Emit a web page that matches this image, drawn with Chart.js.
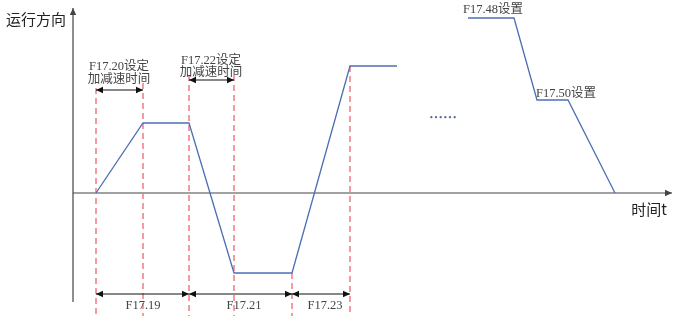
<!DOCTYPE html>
<html><head><meta charset="utf-8">
<script src="https://cdn.jsdelivr.net/npm/chart.js@4/dist/chart.umd.min.js"></script>
<style>html,body{margin:0;padding:0;background:#fff}#wrap{width:678px;height:321px;position:relative}</style>
</head><body><div id="wrap"><canvas id="c"></canvas></div>
<script>
// time (schematic units) and running speed/direction values
const timeA  = [0, 47, 93, 138, 196, 254, 301];
const speedA = [0, 70, 70, -80, -80, 127, 127];
const timeB  = [372, 418, 441, 472, 519];
const speedB = [175, 175, 93, 93, 0];
// red dashed marker lines: time, top value
const markerTimes = [0, 47, 93, 138, 196, 254];
const markerTops  = [105, 110, 118, 118, -80, 127];
const markerBottom = -123;
// dimension arrows: [from, to, level]
const dimArrows = [[0, 47, 103], [93, 138, 113], [0, 93, -101], [93, 196, -101], [196, 254, -101]];
// axis extents
const xAxisRange = [-23, 576];
const yAxisRange = [-109, 185];
// text labels: [text, time, value, kind]
const textLabels = [
  ['运行方向', -60, 174, 'axis'],
  ['时间t', 553, -16, 'axis'],
  ['F17.20设定', 23, 126, 'note'],
  ['加减速时间', 23, 113, 'note'],
  ['F17.22设定', 115, 132, 'note'],
  ['加减速时间', 115, 120, 'note'],
  ['F17.19', 47, -113, 'note'],
  ['F17.21', 148, -113, 'note'],
  ['F17.23', 229, -113, 'note'],
  ['F17.48设置', 397, 183, 'note'],
  ['F17.50设置', 470, 99, 'note'],
  ['……', 347, 76, 'dots']
];

const BLUE = '#4c6fb4', RED = '#f0707a', AXIS = '#444';
const pts = (xs, ys) => xs.map((x, i) => ({x, y: ys[i]}));
const datasets = [];
datasets.push({data: pts(timeA, speedA), borderColor: BLUE, borderWidth: 1.3, pointRadius: 0, order: 1});
datasets.push({data: pts(timeB, speedB), borderColor: BLUE, borderWidth: 1.3, pointRadius: 0, order: 1});
markerTimes.forEach((t, i) => datasets.push({data: [{x: t, y: markerTops[i]}, {x: t, y: markerBottom}], borderColor: RED, borderWidth: 1.4, borderDash: [6, 4], pointRadius: 0, order: 2}));
dimArrows.forEach(a => datasets.push({data: [{x: a[0], y: a[2]}, {x: a[1], y: a[2]}], borderColor: '#111', borderWidth: 1, pointRadius: 0, arrows: 'both', order: 0}));
datasets.push({data: [{x: xAxisRange[0], y: 0}, {x: xAxisRange[1], y: 0}], borderColor: AXIS, borderWidth: 1.2, pointRadius: 0, arrows: 'end', order: 3});
datasets.push({data: [{x: xAxisRange[0], y: yAxisRange[0]}, {x: xAxisRange[0], y: yAxisRange[1]}], borderColor: AXIS, borderWidth: 1.2, pointRadius: 0, arrows: 'end', order: 3});
datasets.forEach(d => { d.showLine = true; d.clip = false; d.tension = 0; d.fill = false; });

const arrowPlugin = {
  id: 'arrowHeads',
  afterDatasetsDraw(chart) {
    const ctx = chart.ctx;
    chart.data.datasets.forEach((ds, i) => {
      if (!ds.arrows) return;
      const m = chart.getDatasetMeta(i).data;
      const head = (tip, from) => {
        const ang = Math.atan2(tip.y - from.y, tip.x - from.x), L = 7, W = 3.2;
        ctx.save(); ctx.fillStyle = ds.borderColor; ctx.beginPath();
        ctx.moveTo(tip.x, tip.y);
        ctx.lineTo(tip.x - L * Math.cos(ang) + W * Math.sin(ang), tip.y - L * Math.sin(ang) - W * Math.cos(ang));
        ctx.lineTo(tip.x - L * Math.cos(ang) - W * Math.sin(ang), tip.y - L * Math.sin(ang) + W * Math.cos(ang));
        ctx.closePath(); ctx.fill(); ctx.restore();
      };
      head(m[m.length - 1], m[0]);
      if (ds.arrows === 'both') head(m[0], m[m.length - 1]);
    });
  }
};
const textPlugin = {
  id: 'texts',
  afterDatasetsDraw(chart) {
    const ctx = chart.ctx, xs = chart.scales.x, ys = chart.scales.y;
    ctx.save(); ctx.textAlign = 'center'; ctx.textBaseline = 'middle';
    textLabels.forEach(([t, x, y, k]) => {
      if (k === 'axis') { ctx.font = '15px "Noto Sans CJK SC", sans-serif'; ctx.fillStyle = '#222'; }
      else if (k === 'dots') { ctx.font = 'bold 14px "Noto Sans CJK SC", sans-serif'; ctx.fillStyle = '#5a6f9a'; }
      else { ctx.font = '12.5px "Liberation Serif", "Noto Sans CJK SC", serif'; ctx.fillStyle = '#444'; }
      ctx.fillText(t, xs.getPixelForValue(x), ys.getPixelForValue(y));
    });
    ctx.restore();
  }
};

new Chart(document.getElementById('c'), {
  type: 'scatter',
  data: {datasets},
  options: {
    responsive: true, maintainAspectRatio: false, animation: false,
    layout: {padding: {left: 73, right: 6, top: 8, bottom: 3}},
    plugins: {legend: {display: false}, tooltip: {enabled: false}},
    scales: {
      x: {type: 'linear', display: false, min: -23, max: 576},
      y: {type: 'linear', display: false, min: -125, max: 185}
    }
  },
  plugins: [arrowPlugin, textPlugin]
});
</script></body></html>
